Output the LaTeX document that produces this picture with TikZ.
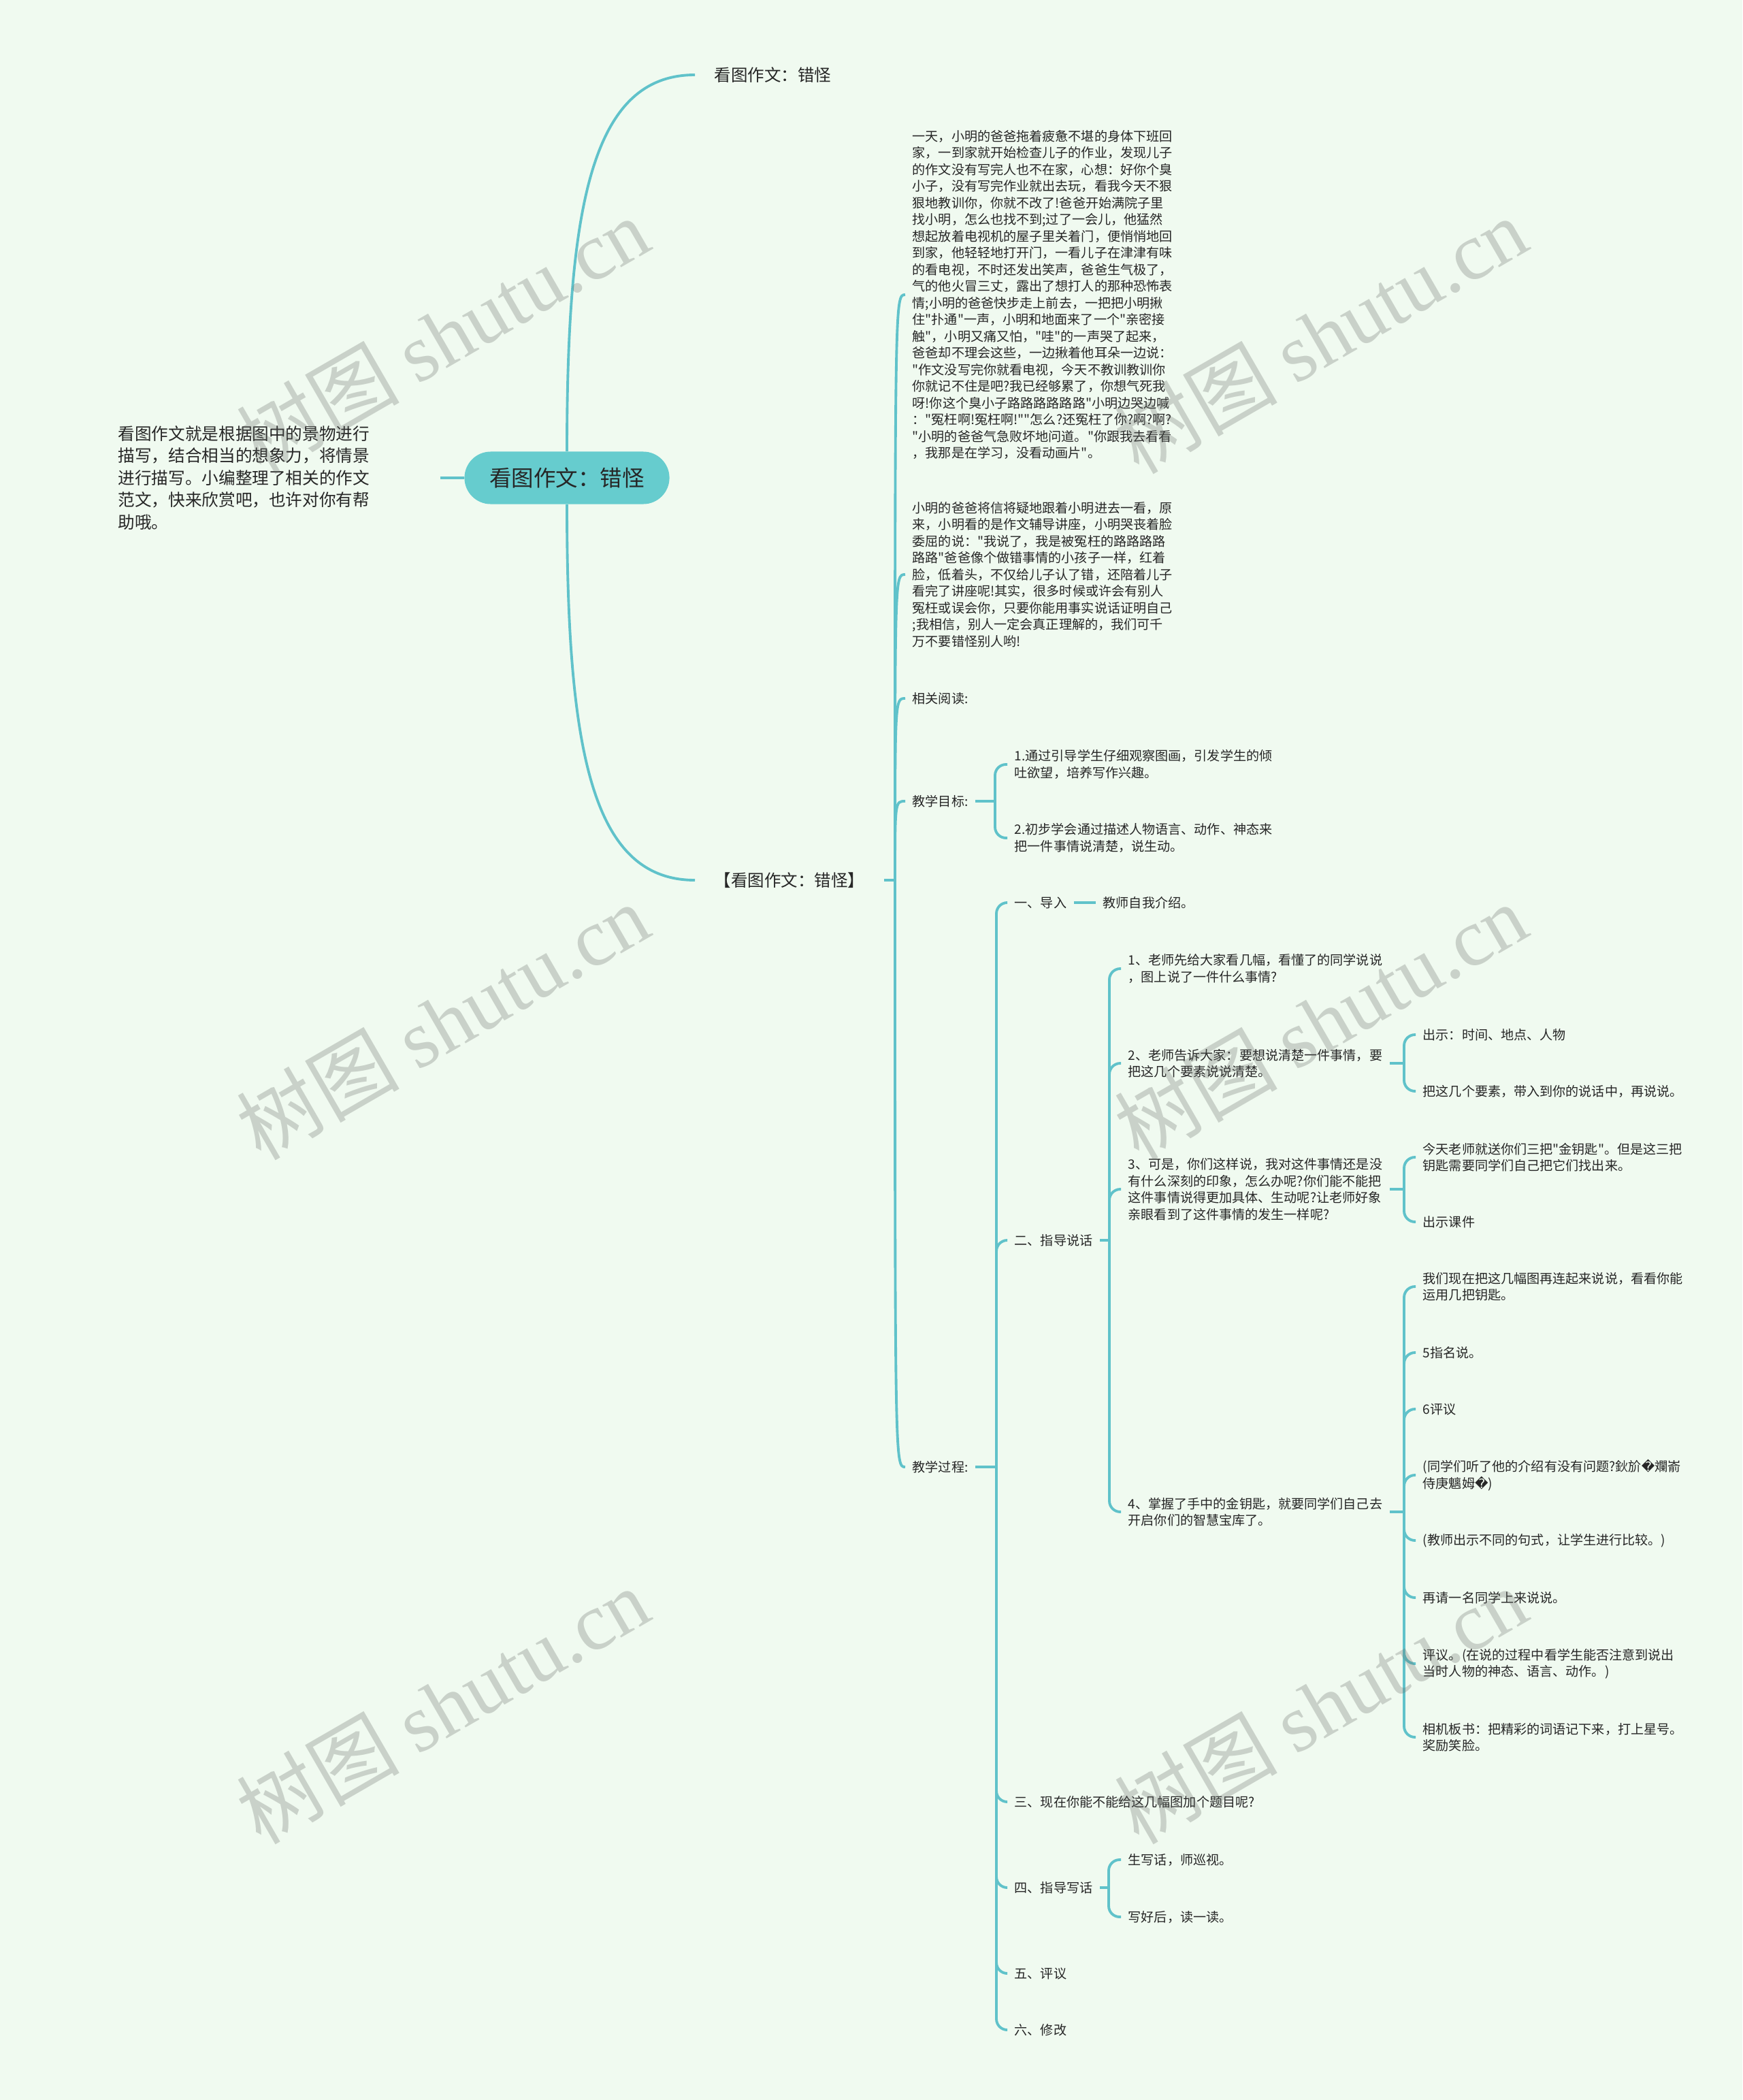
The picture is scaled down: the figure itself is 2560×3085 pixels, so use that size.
\documentclass[tikz,border=0pt]{standalone}
\usepackage{fontspec}
\setmainfont{Noto Sans CJK SC}[Ligatures=TeXOff]
\newfontfamily\wmserif{Liberation Serif}
\newfontfamily\dvsans{DejaVu Sans}
\definecolor{bgmint}{RGB}{240,250,240}
\definecolor{branch}{RGB}{96,194,202}
\definecolor{rootfill}{RGB}{102,204,206}
\definecolor{ink}{RGB}{38,38,38}
\definecolor{wmgray}{RGB}{100,106,100}
\newcommand{\badglyph}{{\dvsans\char"FFFD}}

\begin{document}
\begin{tikzpicture}[x=0.01cm, y=-0.01cm,
    link/.style={draw=branch, line width=1.1pt},
    elbow/.style={link, rounded corners=0.16cm},
    body/.style={anchor=west, align=left, text=ink, inner xsep=0.1cm, inner ysep=0.03cm,
        font=\fontsize{5.43pt}{6.97pt}\selectfont},
    head/.style={body, inner xsep=0.28cm, font=\fontsize{6.97pt}{8.5pt}\selectfont},
    wmark/.style={rotate=30, text=wmgray, text opacity=0.28,
        font=\fontsize{34pt}{38pt}\selectfont}]
    \useasboundingbox (0,0) rectangle (2560,3085);
    \fill[bgmint] (0,0) rectangle (2560,3085);

    % centre and left note
    \node[fill=rootfill, rounded corners=0.385cm, minimum width=3.01cm, minimum height=0.77cm,
        text=ink, font=\fontsize{9.25pt}{11pt}\selectfont] (root) at (833,702) {看图作文：错怪};
    \node[body, text width=4.62cm, font=\fontsize{7.0pt}{9.25pt}\selectfont] (intro) at (163,702)
        {看图作文就是根据图中的景物进行\\描写，结合相当的想象力，将情景\\进行描写。小编整理了相关的作文\\范文，快来欣赏吧，也许对你有帮\\助哦。};
    \draw[link] (intro.east) -- (root.west);

    % two main branches
    \node[head] (top) at (1021,110) {看图作文：错怪};
    \node[head] (essay) at (1021,1293) {【看图作文：错怪】};
    \draw[link] (root.north) .. controls +(0,-363) and +(-151,0) .. (top.west);
    \draw[link] (root.south) .. controls +(0,363) and +(-151,0) .. (essay.west);

    % essay text and lesson plan
    \coordinate (ej) at (1315,1293);
    \draw[link] (essay.east) -- (ej);
    \node[body] (story) at (1330,433) {一天，小明的爸爸拖着疲惫不堪的身体下班回\\家，一到家就开始检查儿子的作业，发现儿子\\的作文没有写完人也不在家，心想：好你个臭\\小子，没有写完作业就出去玩，看我今天不狠\\狠地教训你，你就不改了!爸爸开始满院子里\\找小明，怎么也找不到;过了一会儿，他猛然\\想起放着电视机的屋子里关着门，便悄悄地回\\到家，他轻轻地打开门，一看儿子在津津有味\\的看电视，不时还发出笑声，爸爸生气极了，\\气的他火冒三丈，露出了想打人的那种恐怖表\\情;小明的爸爸快步走上前去，一把把小明揪\\住"扑通"一声，小明和地面来了一个"亲密接\\触"，小明又痛又怕，"哇"的一声哭了起来，\\爸爸却不理会这些，一边揪着他耳朵一边说：\\"作文没写完你就看电视，今天不教训教训你\\你就记不住是吧?我已经够累了，你想气死我\\呀!你这个臭小子路路路路路路"小明边哭边喊\\："冤枉啊!冤枉啊!""怎么?还冤枉了你?啊?啊?\\"小明的爸爸气急败坏地问道。"你跟我去看看\\，我那是在学习，没看动画片"。};
    \node[body] (truth) at (1330,844) {小明的爸爸将信将疑地跟着小明进去一看，原\\来，小明看的是作文辅导讲座，小明哭丧着脸\\委屈的说："我说了，我是被冤枉的路路路路\\路路"爸爸像个做错事情的小孩子一样，红着\\脸，低着头，不仅给儿子认了错，还陪着儿子\\看完了讲座呢!其实，很多时候或许会有别人\\冤枉或误会你，只要你能用事实说话证明自己\\;我相信，别人一定会真正理解的，我们可千\\万不要错怪别人哟!};
    \node[body] (read) at (1330,1026) {相关阅读:};
    \node[body] (goal) at (1330,1177) {教学目标:};
    \node[body] (proc) at (1330,2155) {教学过程:};
    \foreach \kid in {story,truth,read,goal,proc}
        \draw[link] (ej) .. controls (ej |- \kid.west) .. (\kid.west);

    % teaching goals
    \coordinate (gj) at (1462,1177);
    \draw[link] (goal.east) -- (gj);
    \node[body] (goal1) at (1480,1123) {1.通过引导学生仔细观察图画，引发学生的倾\\吐欲望，培养写作兴趣。};
    \node[body] (goal2) at (1480,1231) {2.初步学会通过描述人物语言、动作、神态来\\把一件事情说清楚，说生动。};
    \foreach \kid in {goal1,goal2}
        \draw[elbow] (gj) |- (\kid.west);

    % teaching steps
    \coordinate (pj) at (1464,2155);
    \draw[link] (proc.east) -- (pj);
    \node[body] (lead) at (1480,1326) {一、导入};
    \node[body] (guide) at (1480,1822) {二、指导说话};
    \node[body] (title) at (1480,2647) {三、现在你能不能给这几幅图加个题目呢?};
    \node[body] (write) at (1480,2773) {四、指导写话};
    \node[body] (review) at (1480,2899) {五、评议};
    \node[body] (revise) at (1480,2982) {六、修改};
    \foreach \kid in {lead,guide,title,write,review,revise}
        \draw[elbow] (pj) |- (\kid.west);

    \node[body] (self) at (1610,1326) {教师自我介绍。};
    \draw[link] (lead.east) -- (self.west);

    % guided speaking
    \coordinate (gdj) at (1630,1822);
    \draw[link] (guide.east) -- (gdj);
    \node[body] (ask) at (1647,1423) {1、老师先给大家看几幅，看懂了的同学说说\\，图上说了一件什么事情?};
    \node[body] (elem) at (1647,1562) {2、老师告诉大家：要想说清楚一件事情，要\\把这几个要素说说清楚。};
    \node[body] (deep) at (1647,1747) {3、可是，你们这样说，我对这件事情还是没\\有什么深刻的印象，怎么办呢?你们能不能把\\这件事情说得更加具体、生动呢?让老师好象\\亲眼看到了这件事情的发生一样呢?};
    \node[body] (keys) at (1647,2221) {4、掌握了手中的金钥匙，就要同学们自己去\\开启你们的智慧宝库了。};
    \foreach \kid in {ask,elem,deep,keys}
        \draw[elbow] (gdj) |- (\kid.west);

    \coordinate (elj) at (2063,1562);
    \draw[link] (elem.east) -- (elj);
    \node[body] (show1) at (2080,1520) {出示：时间、地点、人物};
    \node[body] (show2) at (2080,1603) {把这几个要素，带入到你的说话中，再说说。};
    \foreach \kid in {show1,show2}
        \draw[elbow] (elj) |- (\kid.west);

    \coordinate (dpj) at (2063,1747);
    \draw[link] (deep.east) -- (dpj);
    \node[body] (gold) at (2080,1700) {今天老师就送你们三把"金钥匙"。但是这三把\\钥匙需要同学们自己把它们找出来。};
    \node[body] (slide) at (2080,1795) {出示课件};
    \foreach \kid in {gold,slide}
        \draw[elbow] (dpj) |- (\kid.west);

    \coordinate (kj) at (2063,2221);
    \draw[link] (keys.east) -- (kj);
    \node[body] (k1) at (2080,1890) {我们现在把这几幅图再连起来说说，看看你能\\运用几把钥匙。};
    \node[body] (k2) at (2080,1987) {5指名说。};
    \node[body] (k3) at (2080,2070) {6评议};
    \node[body] (k4) at (2080,2167) {(同学们听了他的介绍有没有问题?鈥斺\badglyph 斕嵛\\侍庚魑姆\badglyph)};
    \node[body] (k5) at (2080,2263) {(教师出示不同的句式，让学生进行比较。)};
    \node[body] (k6) at (2080,2347) {再请一名同学上来说说。};
    \node[body] (k7) at (2080,2444) {评议。(在说的过程中看学生能否注意到说出\\当时人物的神态、语言、动作。)};
    \node[body] (k8) at (2080,2552) {相机板书：把精彩的词语记下来，打上星号。\\奖励笑脸。};
    \foreach \kid in {k1,k2,k3,k4,k5,k6,k7,k8}
        \draw[elbow] (kj) |- (\kid.west);

    % guided writing
    \coordinate (wj) at (1629,2773);
    \draw[link] (write.east) -- (wj);
    \node[body] (draft) at (1647,2732) {生写话，师巡视。};
    \node[body] (readout) at (1647,2816) {写好后，读一读。};
    \foreach \kid in {draft,readout}
        \draw[elbow] (wj) |- (\kid.west);

    % watermark
    \foreach \wx in {650,1940}
        \foreach \wy in {492,1500,2505}
            \node[wmark] (wm-\wx-\wy) at (\wx,\wy) {树图 {\wmserif shutu.cn}};
\end{tikzpicture}
\end{document}
